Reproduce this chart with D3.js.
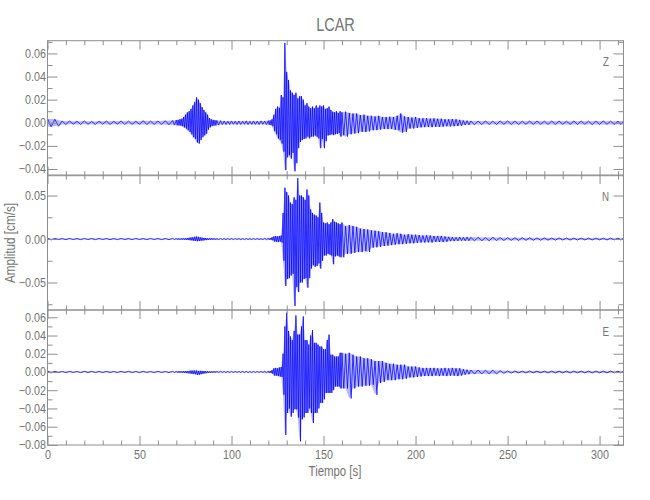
<!DOCTYPE html>
<html><head><meta charset="utf-8">
<script src="https://cdn.jsdelivr.net/npm/d3@7"></script>
<style>
body{margin:0;background:#fff}
text{font-family:"Liberation Sans",Arial,sans-serif;fill:#747474}
</style></head><body><svg id="c" width="650" height="500"></svg>
<script>
// sample times (s)
const times = [0,4,8,12,16,20,24,28,32,36,40,44,48,52,56,60,64,68,
70,71,72,73,74,75,76,77,78,79,80,81,82,83,84,85,86,87,88,89,90,91,92,
94,96,98,100,102,104,106,108,110,112,114,116,118,120,
121,122,123,124,125,126,127,128,129,130,131,132,133,134,135,136,137,138,139,140,
141,142,143,144,145,146,147,148,149,150,151,152,153,154,155,156,157,158,159,160,
162,164,166,168,170,172,174,176,178,180,182,184,186,188,190,192,194,196,198,200,
202,204,206,208,210,212,214,216,218,220,222,224,226,228,230,
234,238,242,246,250,254,258,262,266,270,274,278,282,286,290,294,298,302,306,310,313];

// envelope peaks, in 1e-3 cm/s
const zHi = [3.5,3,1.5,1.5,1.3,1.5,1.2,1.4,1.5,1.3,1.6,1.4,1.3,1.8,1.5,1.6,1.8,2,
2.3,2.5,3,3.5,5,7,9,10,12,15,18,22,20,17,13.5,11,9,7,4,3,2.5,2.2,2,
1.8,1.5,1.4,1.5,1.3,1.5,1.4,1.6,1.3,1.5,1.4,1.6,1.5,1.8,
2,3,7,12,14,13,24,22,69,44,37,28,26,24,26,21,23,23,20,15,
17,14,12.5,14,12.5,15,13,15,14,15,12,12.5,14,11,9.6,9,10,8.5,10,9,
9.6,8.5,8,8,6.7,7,6,6,5.5,6,5,5,5.2,5,6,8,5.5,5,4.5,5,
4,3.8,4,3.6,3.8,3.5,3.5,3,3,3.2,3,2.5,2,1.8,1.6,
1.5,1.6,1.4,1.5,1.6,1.5,1.4,1.5,1.6,1.4,1.5,1.5,1.4,1.6,1.5,1.4,1.5,1.6,1.4,1.5,1.5];
const zLo = [-3.5,-3,-1.5,-1.2,-1.5,-1.3,-1.4,-1.2,-1.5,-1.2,-1.5,-1.3,-1.4,-1.6,-1.5,-1.4,-1.7,-2,
-2.2,-2.3,-2.5,-3,-4,-5,-6.5,-8,-10,-12.5,-14,-17,-18,-15,-12.5,-11,-9.5,-6,-4,-3,-2.5,-2.3,-2,
-1.6,-1.5,-1.5,-1.3,-1.4,-1.5,-1.3,-1.5,-1.4,-1.4,-1.5,-1.3,-1.6,-1.7,
-2,-3,-7.3,-10,-13.6,-15,-18,-25,-41,-30,-28,-31,-26,-42,-35,-22,-16.5,-15,-14,-13.6,
-12,-13.6,-12,-12,-11,-12,-13.6,-22,-14,-22,-16,-11,-10.7,-10,-10.7,-10,-9.6,-9,-12,-10.7,
-12,-10,-9.3,-9,-7.8,-8,-7.5,-6.4,-6.4,-6,-5.5,-5.5,-5.3,-6,-6.4,-8.5,-8,-5,-5,-4.5,
-4,-3.8,-3.6,-3.8,-3.5,-3.6,-3.4,-3,-3.2,-3,-2.8,-2.6,-2,-1.8,-1.7,
-1.6,-1.5,-1.5,-1.4,-1.5,-1.6,-1.4,-1.5,-1.4,-1.5,-1.6,-1.4,-1.5,-1.5,-1.4,-1.6,-1.5,-1.4,-1.5,-1.5,-1.5];

const nHi = [1,0.7,0.6,0.7,0.6,0.7,0.6,0.7,0.7,0.6,0.7,0.6,0.7,0.6,0.7,0.7,0.6,0.7,
0.7,0.8,0.7,0.8,0.9,1,1.2,1.5,1.8,2,2.5,2.8,2.5,2,1.6,1.3,1.1,1,0.9,0.8,0.8,0.7,0.7,
0.7,0.6,0.7,0.6,0.7,0.7,0.6,0.7,0.6,0.7,0.7,0.6,0.8,0.9,
1,2,3,3.5,3,3.5,4,30,59,54,50,42,40,48,45,70,50,50,48,45,
57,50,34,30,28,27,25,42,30,19,18,19,17,19,23,20,19,18,17,19,
15,16,15,14,12,11.5,11,10,9.6,9,8,7.7,7,6,6.5,6,5,5.5,5,5,
4.5,4,4.2,4,3.5,3.6,3.5,3,2.5,2.2,2,2.2,2,2.2,2,
2,1.8,2,1.7,1.6,1.5,1.6,1.4,1.3,1.4,1.2,1.3,1.2,1.1,1.2,1,1.1,1,1,1.1,1];
const nLo = [-1,-0.6,-0.7,-0.6,-0.7,-0.6,-0.7,-0.6,-0.7,-0.7,-0.6,-0.7,-0.6,-0.7,-0.6,-0.7,-0.7,-0.6,
-0.7,-0.7,-0.8,-0.8,-0.8,-1,-1.1,-1.3,-1.6,-2,-2.2,-2.5,-2.3,-2,-1.8,-1.4,-1.2,-1,-0.9,-0.8,-0.7,-0.8,-0.7,
-0.6,-0.7,-0.6,-0.7,-0.6,-0.7,-0.7,-0.6,-0.7,-0.6,-0.7,-0.7,-0.8,-0.9,
-1,-1.5,-3,-3,-3.5,-3,-4,-25,-54,-46,-45,-42,-40,-77,-55,-61,-50,-50,-46,-45,
-56,-45,-34,-30,-32,-31,-28,-34,-25,-19,-19,-17,-18,-19,-29,-20,-19,-20,-21,-21,
-17,-17,-16,-15,-15,-14,-15,-10,-9.6,-9,-8,-7.7,-7,-6.5,-6,-6,-5.5,-5,-5,-4.5,
-4,-4,-3.8,-4,-3.5,-3.4,-3.5,-3.2,-2.5,-2.4,-2.2,-2,-2,-2,-2.1,
-2,-2,-1.8,-1.7,-1.5,-1.6,-1.5,-1.4,-1.4,-1.3,-1.3,-1.2,-1.2,-1.2,-1.1,-1.1,-1,-1.1,-1,-1,-1];

const eHi = [1,0.7,0.6,0.7,0.6,0.7,0.7,0.6,0.7,0.6,0.7,0.7,0.6,0.7,0.6,0.7,0.6,0.7,
0.7,0.7,0.8,0.8,0.9,1,1,1.2,1.5,1.5,1.5,1.5,1.2,1.3,1.2,1,0.9,0.8,0.8,0.7,0.7,0.7,0.7,
0.7,0.6,0.7,0.6,0.7,0.6,0.7,0.7,0.6,0.7,0.6,0.7,0.8,0.9,
1,2,4,4.5,4,5,5.5,20,50,65,45,39,35,45,62,41,41,50,61,35,
35,30,40,46,32,32,30,28,28,25,25,35,41,19,19,17,17,17,21,21,
20,21,19,17,17,15,15,14,12,12,12,10,9,9,8,8,8,6,6,6,
5,4.5,4.5,4.5,4.5,4,4,4.5,4,4.5,4,4,3,2.5,2.2,
2.2,2,2,1.5,1.2,1.1,1,1.1,1,1,1.1,1,1,1.1,1,1,1.1,1,1,1,1];
const eLo = [-1,-0.6,-0.7,-0.6,-0.7,-0.6,-0.6,-0.7,-0.6,-0.7,-0.6,-0.6,-0.7,-0.6,-0.7,-0.6,-0.7,-0.7,
-0.7,-0.8,-0.8,-0.9,-1,-1.2,-1.4,-1.6,-2,-2.2,-2.5,-3,-3,-2.5,-2,-1.6,-1.3,-1,-0.9,-0.8,-0.8,-0.7,-0.7,
-0.6,-0.7,-0.6,-0.7,-0.6,-0.7,-0.6,-0.7,-0.7,-0.6,-0.7,-0.6,-0.8,-0.9,
-1,-2,-4,-4,-4.5,-5,-5.5,-25,-69,-45,-40,-49,-45,-41,-41,-50,-76,-52,-50,-45,
-45,-40,-45,-56,-45,-45,-40,-34,-34,-30,-23,-23,-23,-23,-20,-16,-16,-16,-18,-18,
-18,-29,-18,-16,-16,-15,-15,-14,-25,-12,-11,-9,-9,-9,-8,-8,-7.5,-6,-6,-5.5,
-5,-4.5,-4.5,-4.5,-4,-4.5,-4,-4.5,-4,-4,-4.5,-4,-3,-2.5,-2.2,
-2.2,-2,-2.2,-1.5,-1.2,-1,-1.1,-1,-1,-1.1,-1,-1,-1.1,-1,-1,-1.1,-1,-1,-1,-1,-1];

// axes / ticks
const xDomain = [0, 313];
const xMajor = [0,50,100,150,200,250,300];
const xMinor = [10,20,30,40,60,70,80,90,110,120,130,140,160,170,180,190,210,220,230,240,260,270,280,290,310];
const panelNames = ["Z","N","E"];
const yDomains = [[-0.0458,0.071],[-0.0816,0.0736],[-0.0801,0.068]];
const yMajors = [[-0.04,-0.02,0,0.02,0.04,0.06],[-0.05,0,0.05],[-0.08,-0.06,-0.04,-0.02,0,0.02,0.04,0.06]];
const yMinors = [[-0.03,-0.01,0.01,0.03,0.05,0.07],[-0.075,-0.025,0.025],[-0.07,-0.05,-0.03,-0.01,0.01,0.03,0.05]];
const title = "LCAR", xTitle = "Tiempo [s]", yTitle = "Amplitud [cm/s]";

const svg = d3.select("#c");
const L = 47.5, R = 623.5;
const tops = [40.7, 175, 310], H = 135;
const x = d3.scaleLinear().domain(xDomain).range([L, R]);
const his = [zHi, nHi, eHi], los = [zLo, nLo, eLo];
const axisCol = "#8e8e8e";

function squeeze(sel, k) {
  sel.each(function () {
    const w = this.getComputedTextLength();
    if (w > 0) d3.select(this).attr("textLength", w * k).attr("lengthAdjust", "spacingAndGlyphs");
  });
}
function styleAxis(g){
  g.select(".domain").remove();
  g.selectAll("line").attr("stroke", axisCol).attr("stroke-width", 1);
  g.selectAll("text").attr("fill", "#747474").attr("font-size", 12.5)
   .attr("font-family", null);
  squeeze(g.selectAll("text"), 0.86);
}

for (let p = 0; p < 3; p++) {
  const top = tops[p], bot = top + H;
  const y = d3.scaleLinear().domain(yDomains[p]).range([bot, top]);
  const cid = "clip" + p;
  svg.append("clipPath").attr("id", cid).append("rect")
    .attr("x", L).attr("y", top).attr("width", R - L).attr("height", H);

  const hi = his[p], lo = los[p];
  const rows = times.map((t, i) => ({t, hi: hi[i] / 1000, lo: lo[i] / 1000}));
  // faint envelope band
  const area = d3.area().x(d => x(d.t)).y0(d => y(d.lo)).y1(d => y(d.hi));
  svg.append("path").attr("clip-path", `url(#${cid})`).attr("d", area(rows))
    .attr("fill", "#0000ff").attr("fill-opacity", 0.28).attr("stroke", "none");

  const pts = [];
  for (let i = 0; i < rows.length; i++) {
    const tn = i < rows.length - 1 ? rows[i + 1].t : rows[i].t;
    pts.push([rows[i].t, rows[i].hi]);
    pts.push([(rows[i].t + tn) / 2, rows[i].lo]);
  }
  const line = d3.line().x(d => x(d[0])).y(d => y(d[1]));
  svg.append("path").attr("clip-path", `url(#${cid})`)
    .attr("d", line(pts)).attr("fill", "none")
    .attr("stroke", "#0000ff").attr("stroke-width", 0.75).attr("stroke-linejoin", "round");

  // box
  svg.append("rect").attr("x", L).attr("y", top).attr("width", R - L).attr("height", H)
    .attr("fill", "none").attr("stroke", axisCol).attr("stroke-width", 1);

  const gb = svg.append("g").attr("transform", `translate(0,${bot})`)
    .call(d3.axisBottom(x).tickValues(xMajor).tickSizeInner(-9).tickSizeOuter(0).tickPadding(5)
      .tickFormat(p === 2 ? d3.format("d") : () => ""));
  styleAxis(gb);
  styleAxis(svg.append("g").attr("transform", `translate(0,${bot})`)
    .call(d3.axisBottom(x).tickValues(xMinor).tickSizeInner(-4.5).tickSizeOuter(0).tickFormat(() => "")));
  styleAxis(svg.append("g").attr("transform", `translate(0,${top})`)
    .call(d3.axisTop(x).tickValues(xMajor).tickSizeInner(-9).tickSizeOuter(0).tickFormat(() => "")));
  styleAxis(svg.append("g").attr("transform", `translate(0,${top})`)
    .call(d3.axisTop(x).tickValues(xMinor).tickSizeInner(-4.5).tickSizeOuter(0).tickFormat(() => "")));
  styleAxis(svg.append("g").attr("transform", `translate(${L},0)`)
    .call(d3.axisLeft(y).tickValues(yMajors[p]).tickSizeInner(-10).tickSizeOuter(0).tickPadding(1.5)
      .tickFormat(d3.format(".2f"))));
  styleAxis(svg.append("g").attr("transform", `translate(${L},0)`)
    .call(d3.axisLeft(y).tickValues(yMinors[p]).tickSizeInner(-5).tickSizeOuter(0).tickFormat(() => "")));
  styleAxis(svg.append("g").attr("transform", `translate(${R},0)`)
    .call(d3.axisRight(y).tickValues(yMajors[p]).tickSizeInner(-10).tickSizeOuter(0).tickFormat(() => "")));
  styleAxis(svg.append("g").attr("transform", `translate(${R},0)`)
    .call(d3.axisRight(y).tickValues(yMinors[p]).tickSizeInner(-5).tickSizeOuter(0).tickFormat(() => "")));

  squeeze(svg.append("text").attr("x", 609).attr("y", top + 25.5).attr("text-anchor", "end")
    .attr("font-size", 13).text(panelNames[p]), 0.75);
}

squeeze(svg.append("text").attr("x", 335.5).attr("y", 31).attr("text-anchor", "middle")
  .attr("font-size", 19).text(title), 0.76);
squeeze(svg.append("text").attr("x", 335).attr("y", 476).attr("text-anchor", "middle")
  .attr("font-size", 15).text(xTitle), 0.76);
squeeze(svg.append("text").attr("transform", "translate(14.5,243) rotate(-90)").attr("text-anchor", "middle")
  .attr("font-size", 15).text(yTitle), 0.78);
</script></body></html>
